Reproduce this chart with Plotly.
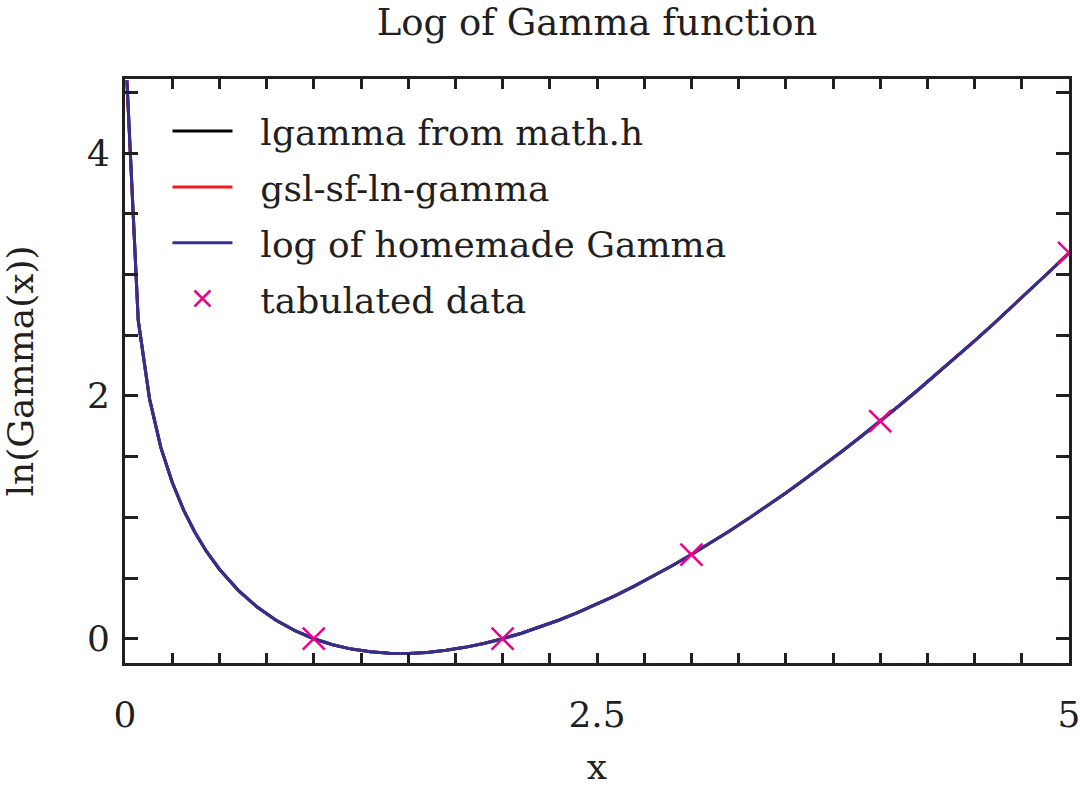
import plotly.graph_objects as go

x_curve = [0.01, 0.07, 0.13, 0.19, 0.25, 0.31, 0.37, 0.43, 0.5, 0.6, 0.7, 0.8, 0.9,
           1.0, 1.1, 1.2, 1.3, 1.4, 1.5, 1.6, 1.7, 1.8, 1.9,
           2.0, 2.1, 2.2, 2.3, 2.4, 2.5, 2.6, 2.7, 2.8, 2.9,
           3.0, 3.1, 3.2, 3.3, 3.4, 3.5, 3.6, 3.7, 3.8, 3.9,
           4.0, 4.1, 4.2, 4.3, 4.4, 4.5, 4.6, 4.7, 4.8, 4.9, 5.0]
lgamma_math = [4.5995, 2.6228, 1.9750, 1.5739, 1.2880, 1.0613, 0.8769, 0.7228, 0.5724,
               0.3982, 0.2609, 0.1521, 0.0664,
               0.0, -0.0499, -0.0854, -0.1082, -0.1196, -0.1208, -0.1126, -0.0958, -0.0711, -0.0390,
               0.0, 0.0454, 0.0969, 0.1542, 0.2169, 0.2847, 0.3574, 0.4348, 0.5167, 0.6029,
               0.6931, 0.7874, 0.8854, 0.9871, 1.0923, 1.2010, 1.3129, 1.4281, 1.5463, 1.6676,
               1.7918, 1.9188, 2.0486, 2.1810, 2.3161, 2.4537, 2.5939, 2.7364, 2.8813, 3.0285, 3.1781]
gsl_ln_gamma = list(lgamma_math)
homemade_ln_gamma = list(lgamma_math)

x_tab = [1, 2, 3, 4, 5]
y_tab = [0.0, 0.0, 0.6931, 1.7918, 3.1781]

FONT = "DejaVu Serif"
AX = "#231f20"
SP = "\u00a0\u00a0"

fig = go.Figure()
fig.add_trace(go.Scatter(x=x_curve, y=lgamma_math, mode="lines", name=SP + "lgamma from math.h",
                         legendgroup="a", line=dict(color="#000000", width=3)))
fig.add_trace(go.Scatter(x=x_curve, y=gsl_ln_gamma, mode="lines", name=SP + "gsl-sf-ln-gamma",
                         legendgroup="b", line=dict(color="#ed1c24", width=3)))
fig.add_trace(go.Scatter(x=x_curve, y=homemade_ln_gamma, mode="lines", name=SP + "log of homemade Gamma",
                         legendgroup="c", line=dict(color="#2e3192", width=3)))
fig.add_trace(go.Scatter(x=x_tab, y=y_tab, mode="markers", name=SP + "tabulated data",
                         legendgroup="d",
                         marker=dict(symbol="x-thin", size=22, color="#ec008c",
                                     line=dict(color="#ec008c", width=2.5))))

fig.update_layout(
    width=1080, height=787,
    margin=dict(l=125, r=11, t=79, b=124, autoexpand=False),
    paper_bgcolor="white", plot_bgcolor="white",
    font=dict(family=FONT, size=36, color="#231f20"),
    title=dict(text="Log of Gamma function", x=0.5, xref="paper", xanchor="center",
               y=1 - 22 / 787, yref="container", yanchor="middle",
               font=dict(family=FONT, size=37, color="#231f20")),
    showlegend=True,
    legend=dict(x=0.045, y=0.962, xanchor="left", yanchor="top", bgcolor="rgba(0,0,0,0)",
                font=dict(family=FONT, size=36, color="#231f20"), itemwidth=60,
                tracegroupgap=6),
)
fig.update_xaxes(
    range=[0, 5], tickmode="array", tickvals=[0, 2.5, 5], ticktext=["0", "2.5", "5"],
    ticks="inside", ticklen=10, tickwidth=2.5, tickcolor=AX,
    minor=dict(dtick=0.25, ticks="inside", ticklen=10, tickwidth=2.5, tickcolor=AX, showgrid=False),
    showline=True, linewidth=3, linecolor=AX, mirror="allticks", automargin=False,
    showgrid=False, zeroline=False, ticklabelstandoff=18, ticklabeloverflow="allow",
    tickfont=dict(family=FONT, size=36),
    title=dict(text="x", font=dict(family=FONT, size=36), standoff=24),
)
fig.update_yaxes(
    range=[-0.2, 4.61], tickmode="array", tickvals=[0, 2, 4], ticktext=["0", "2", "4"],
    ticks="inside", ticklen=13, tickwidth=2.5, tickcolor=AX,
    minor=dict(dtick=0.5, tick0=0, ticks="inside", ticklen=13, tickwidth=2.5, tickcolor=AX, showgrid=False),
    showline=True, linewidth=3, linecolor=AX, mirror="allticks", automargin=False,
    showgrid=False, zeroline=False, ticklabelstandoff=5, ticklabeloverflow="allow",
    tickfont=dict(family=FONT, size=36),
    title=dict(text="ln(Gamma(x))", font=dict(family=FONT, size=36), standoff=44),
)

fig.write_html("out.html")
